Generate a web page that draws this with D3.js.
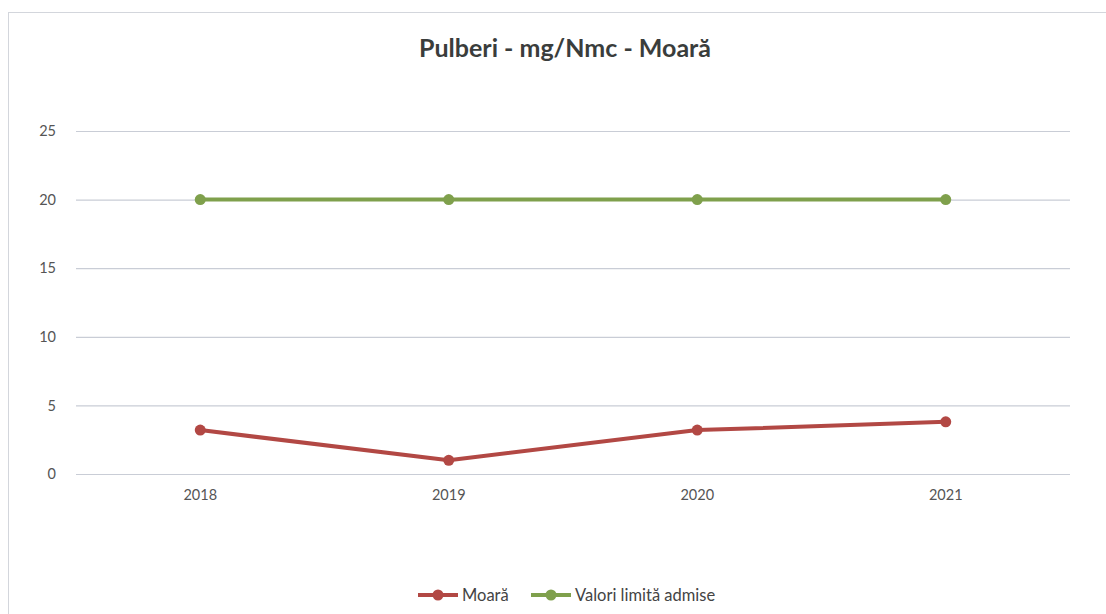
<!DOCTYPE html>
<html lang="en">
<head>
  <meta charset="UTF-8">
  <title>Pulberi - mg/Nmc - Moară</title>
  <script src="https://d3js.org/d3.v7.min.js"></script>
  <style>
    html, body { margin: 0; padding: 0; background: #fff; }
    svg { display: block; }
    .tick text { font-family: Lato, "Open Sans", sans-serif; font-size: 14.5px; fill: #555; }
  </style>
</head>
<body>
  <div id="chart"></div>
  <script>
    const years = ['2018', '2019', '2020', '2021'];
    const moara = [3.2, 1.0, 3.2, 3.8];
    const limita = [20, 20, 20, 20];
    const yTicks = [0, 5, 10, 15, 20, 25];

    const width = 1106, height = 614;
    const margin = { top: 131, right: 36, bottom: 140, left: 76 };

    const svg = d3.select('#chart').append('svg')
      .attr('width', width)
      .attr('height', height);

    // chart frame
    svg.append('rect')
      .attr('x', 8.5).attr('y', 12.5)
      .attr('width', width + 10).attr('height', height + 10)
      .attr('fill', 'none')
      .attr('stroke', '#d3d6dc');

    svg.append('text')
      .attr('x', 565).attr('y', 57)
      .attr('text-anchor', 'middle')
      .style('font-family', 'Lato, "Open Sans", sans-serif')
      .style('font-weight', 'bold')
      .style('font-size', '25px')
      .attr('fill', '#3a3d3c')
      .text('Pulberi - mg/Nmc - Moară');

    const x = d3.scaleBand()
      .domain(years)
      .range([margin.left, width - margin.right]);

    const y = d3.scaleLinear()
      .domain([0, 25])
      .range([height - margin.bottom, margin.top]);

    // gridlines
    svg.append('g')
      .selectAll('line')
      .data(yTicks)
      .join('line')
      .attr('x1', margin.left).attr('x2', width - margin.right)
      .attr('y1', d => y(d) + 0.5).attr('y2', d => y(d) + 0.5)
      .attr('stroke', '#c9cdd6')
      .attr('stroke-width', 1.2);

    const yAxis = svg.append('g')
      .attr('transform', `translate(${margin.left - 14},0)`)
      .call(d3.axisLeft(y).tickValues(yTicks).tickSize(0).tickPadding(6));
    yAxis.select('.domain').remove();

    const xAxis = svg.append('g')
      .attr('transform', `translate(0,${height - margin.bottom + 8})`)
      .call(d3.axisBottom(x).tickSize(0).tickPadding(8));
    xAxis.select('.domain').remove();

    const cx = d => x(d) + x.bandwidth() / 2;
    const line = d3.line()
      .x(d => cx(d.year))
      .y(d => y(d.value));

    const series = [
      { name: 'Moară', color: '#b24844', values: moara },
      { name: 'Valori limită admise', color: '#7fa04c', values: limita }
    ];

    series.slice().reverse().forEach(s => {
      const pts = years.map((yr, i) => ({ year: yr, value: s.values[i] }));
      svg.append('path')
        .datum(pts)
        .attr('fill', 'none')
        .attr('stroke', s.color)
        .attr('stroke-width', 4)
        .attr('stroke-linejoin', 'round')
        .attr('d', line);
      svg.append('g')
        .selectAll('circle')
        .data(pts)
        .join('circle')
        .attr('cx', d => cx(d.year))
        .attr('cy', d => y(d.value))
        .attr('r', 5.5)
        .attr('fill', s.color);
    });

    // legend
    const legendY = 595;
    const legendX = [418, 531];
    series.forEach((s, i) => {
      const g = svg.append('g').attr('transform', `translate(${legendX[i]},${legendY})`);
      g.append('line')
        .attr('x1', 0).attr('x2', 40)
        .attr('stroke', s.color).attr('stroke-width', 4);
      g.append('circle')
        .attr('cx', 20).attr('r', 5.5).attr('fill', s.color);
      g.append('text')
        .attr('x', 44).attr('dy', '0.35em')
        .style('font-family', 'Lato, "Open Sans", sans-serif')
        .style('font-size', '16.5px')
        .attr('fill', '#444')
        .text(s.name);
    });
  </script>
</body>
</html>
